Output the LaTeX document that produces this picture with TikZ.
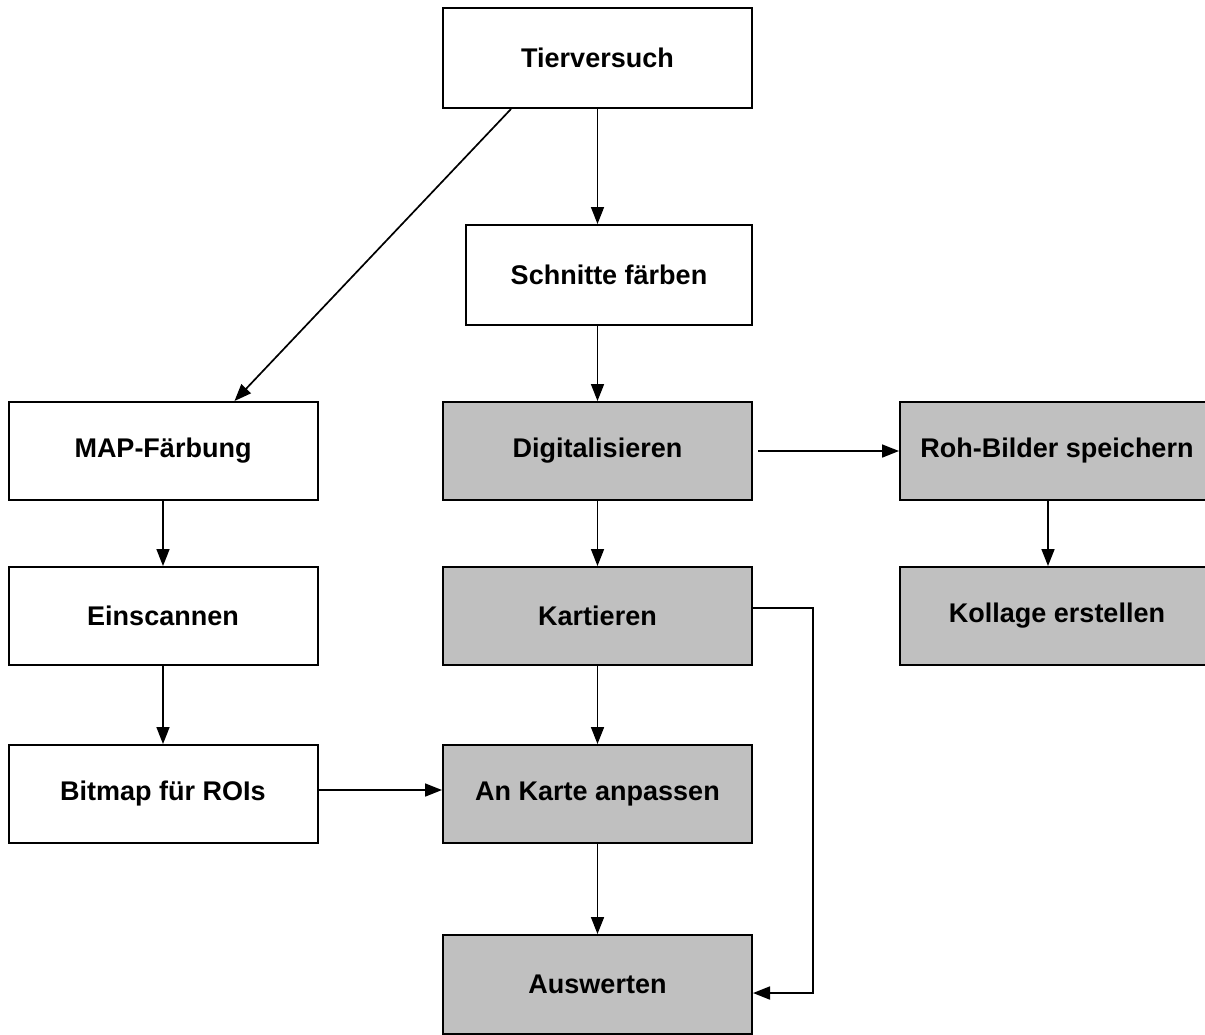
\documentclass[tikz,border=0pt]{standalone}
\usepackage{fontspec}
\setmainfont{Liberation Sans}
\usetikzlibrary{arrows.meta,calc}
\definecolor{boxgrey}{HTML}{C0C0C0}
\tikzset{
  box/.style={draw,line width=1pt,fill=white,inner sep=0pt,minimum width=154.5pt,minimum height=50pt,font=\fontsize{13.5}{16}\selectfont\bfseries},
  greybox/.style={box,fill=boxgrey},
  arr/.style={line width=0.85pt,-{Triangle[length=8.5pt,width=6.5pt]}}
}
\begin{document}
\begin{tikzpicture}[x=0.5pt,y=-0.5pt]
      \useasboundingbox (0,0) rectangle (1205,1034);
      \draw
        (597.5,58) node[box] (tier){Tierversuch}
        (609,275) node[box,minimum width=143pt] (schnitte){Schnitte färben}
        (163,451) node[box,minimum height=49pt] (map){MAP-Färbung}
        (597.5,451) node[greybox,minimum height=49pt] (digi){Digitalisieren}
        (1057,451) node[greybox,minimum width=157pt,minimum height=49pt] (roh){Roh-Bilder speichern}
        (163,616) node[box,minimum height=49pt] (scan){Einscannen}
        (597.5,616) node[greybox,minimum height=49pt] (kart){Kartieren}
        (1057,616) node[greybox,minimum width=157pt,minimum height=49pt] (kollage){Kollage erstellen}
        (163,794) node[box,minimum height=49pt] (bitmap){Bitmap für ROIs}
        (597.5,794) node[greybox,minimum height=49pt] (anpassen){An Karte anpassen}
        (597.5,984.5) node[greybox,minimum height=49.5pt] (ausw){Auswerten};
      \begin{scope}[arr]
        \draw ([xshift=34.5pt]tier.south west) -- ([xshift=113.5pt]map.north west);
        \draw (tier.south) -- (tier.south |- schnitte.north);
        \draw (schnitte.south -| digi.north) -- (digi.north);
        \draw ([xshift=2.5pt]digi.east) -- (roh.west);
        \draw ([xshift=-4.5pt]roh.south) -- ([xshift=-4.5pt]kollage.north);
        \draw (digi) -- (kart);
        \draw (kart) -- (anpassen);
        \draw (anpassen) -- (ausw);
        \draw (map) -- (scan);
        \draw (scan) -- (bitmap);
        \draw ([yshift=2pt]bitmap.east) -- ([yshift=2pt]anpassen.west);
        \draw ([yshift=4pt]kart.east) -- ++(60,0) |- ([yshift=-4.25pt]ausw.east);
      \end{scope}
    \end{tikzpicture}
\end{document}
